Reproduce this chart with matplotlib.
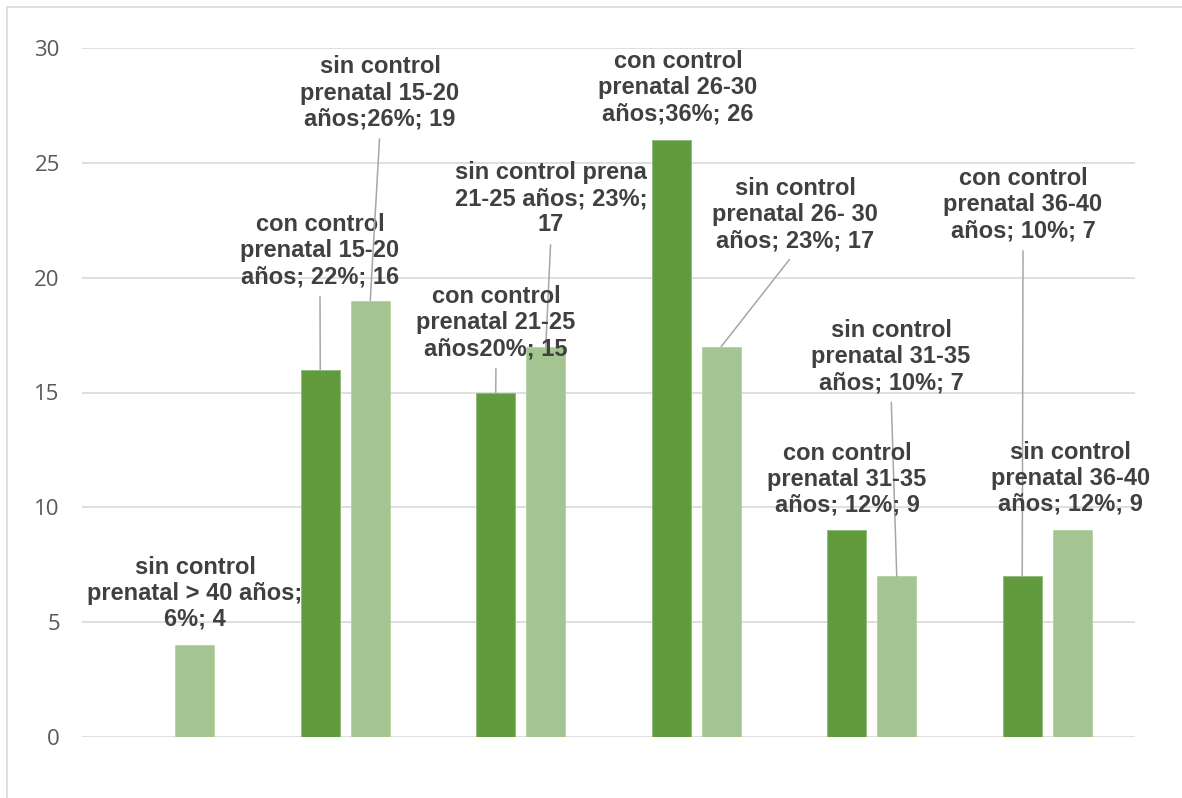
import numpy as np
import matplotlib
matplotlib.use("Agg")
import matplotlib.pyplot as plt
from matplotlib.patches import Rectangle

# counts per age group (6 groups, no axis labels shown)
con_control = [0, 16, 15, 26, 9, 7]
sin_control = [4, 19, 17, 17, 7, 9]

# data label texts, as typed in the source workbook
label_texts = [
    "sin control\nprenatal > 40 años;\n6%; 4",
    "con control\nprenatal 15-20\naños; 22%; 16",
    "sin control\nprenatal 15-20\naños;26%; 19",
    "sin control prena\n21-25 años; 23%;\n17",
    "con control\nprenatal 21-25\naños20%; 15",
    "con control\nprenatal 26-30\naños;36%; 26",
    "sin control\nprenatal 26- 30\naños; 23%; 17",
    "sin control\nprenatal 31-35\naños; 10%; 7",
    "con control\nprenatal 31-35\naños; 12%; 9",
    "con control\nprenatal 36-40\naños; 10%; 7",
    "sin control\nprenatal 36-40\naños; 12%; 9",
]
# which bar each label belongs to: (series, group)
label_targets = [
    ("sin", 0), ("con", 1), ("sin", 1), ("sin", 2), ("con", 2), ("con", 3),
    ("sin", 3), ("sin", 4), ("con", 4), ("con", 5), ("sin", 5),
]

# label placement (x, y in data units) and whether a leader line is drawn
label_pos = [
    (0.144, 6.26, False), (0.856, 21.17, True), (1.198, 28.04, True),
    (2.172, 23.43, True), (1.859, 18.04, True), (2.896, 28.26, False),
    (3.563, 22.74, True), (4.110, 16.57, True), (3.859, 11.22, False),
    (4.862, 23.17, True), (5.130, 11.26, False),
]

dark_green = "#629b3e"
light_green = "#a4c591"
text_gray = "#404040"

fig = plt.figure(figsize=(11.82, 7.98), dpi=100)
ax = fig.add_axes([82 / 1182, 61 / 798, (1135 - 82) / 1182, (737 - 48) / 798])

# outer chart frame
fig.patches.append(Rectangle((7 / 1182, -0.1), 1.2, 791 / 798 + 0.1,
                             transform=fig.transFigure, fill=False,
                             edgecolor="#d9d9d9", linewidth=1.2))

x = np.arange(len(con_control))
w = 0.222
off = 0.1425
ax.bar(x - off, con_control, width=w, color=dark_green, edgecolor="#8fb87a",
       linewidth=0.6, zorder=2)
ax.bar(x + off, sin_control, width=w, color=light_green, edgecolor="#b5d1a4",
       linewidth=0.6, zorder=2)

ax.set_xlim(-0.5, 5.5)
ax.set_ylim(0, 30)
ax.set_yticks(range(0, 31, 5))
ax.set_xticks([])
ax.yaxis.grid(True, color="#d9d9d9", linewidth=1.2, zorder=0)
ax.set_axisbelow(True)
for s in ax.spines.values():
    s.set_visible(False)
ax.tick_params(axis="y", length=0, pad=16, labelsize=16, labelcolor="#595959")
for t in ax.get_yticklabels():
    t.set_fontfamily("Open Sans")

series = {"con": con_control, "sin": sin_control}
for text, (ser, g), (lx, ly, leader) in zip(label_texts, label_targets, label_pos):
    bx = g - off if ser == "con" else g + off
    by = series[ser][g]
    ax.annotate(
        text, xy=(bx, by), xytext=(lx, ly), textcoords="data",
        ha="center", va="center", fontsize=17, fontweight="bold",
        family="Liberation Sans", color=text_gray, linespacing=1.17, zorder=4,
        arrowprops=dict(arrowstyle="-", color="#a6a6a6", linewidth=1.1,
                        relpos=(0.5, 0.0), shrinkA=4, shrinkB=0) if leader else None,
    )

fig.savefig("out.png", dpi=100)
